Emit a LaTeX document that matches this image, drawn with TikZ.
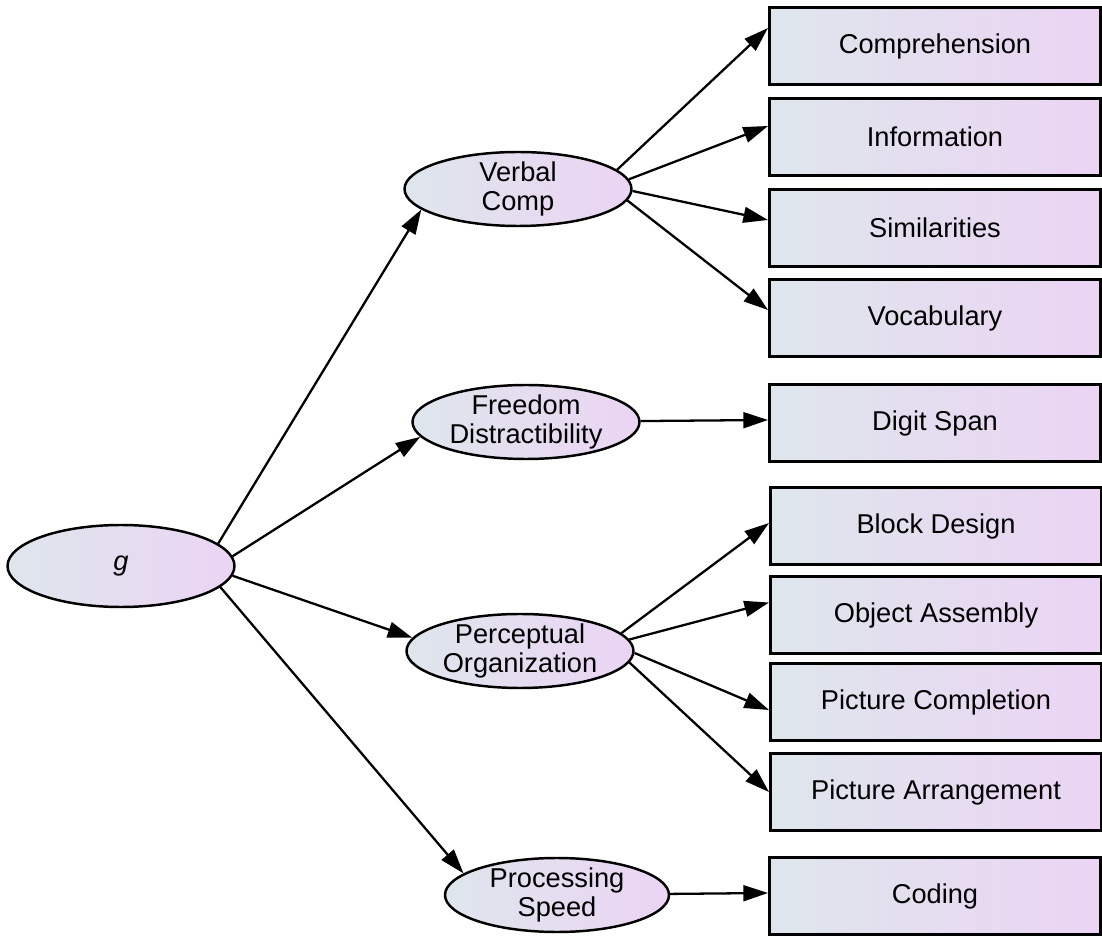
\documentclass[tikz,border=0pt]{standalone}
\usepackage{fontspec}
\setmainfont{Liberation Sans}
\usetikzlibrary{arrows.meta,shapes.geometric}
\definecolor{shadeleft}{RGB}{222,230,236}
\definecolor{shaderight}{RGB}{235,212,244}

\begin{document}
\begin{tikzpicture}[
		latent/.style={ellipse,draw,line width=1.4pt,left color=shadeleft,right color=shaderight,
			minimum width=4.54cm,minimum height=1.48cm,inner xsep=0pt,inner ysep=-3pt,align=center,
			font=\fontsize{15.5}{16.5}\selectfont},
		manifest/.style={rectangle,draw,line width=1.7pt,left color=shadeleft,right color=shaderight,
			minimum width=6.62cm,minimum height=1.54cm,font=\fontsize{15.5}{16.5}\selectfont},
		loading/.style={-{Triangle[length=14pt,width=9pt]},line width=1.3pt}
	]
				\useasboundingbox (0,0) rectangle (22.04,-18.74);
				\node[latent,minimum height=1.64cm] (g) at (2.42,-11.32) {\textit{g}};
				\node[latent] (vc) at (10.36,-3.78) {Verbal\\Comp};
				\node[latent] (fd) at (10.52,-8.44) {Freedom\\Distractibility};
				\node[latent] (po) at (10.40,-13.02) {Perceptual\\Organization};
				\node[latent,minimum width=4.48cm] (ps) at (11.14,-17.90) {Processing\\Speed};

				\node[manifest] (comp) at (18.70,-0.92) {Comprehension};
				\node[manifest] (info) at (18.70,-2.74) {Information};
				\node[manifest] (simi) at (18.70,-4.56) {Similarities};
				\node[manifest] (voca) at (18.70,-6.36) {Vocabulary};
				\node[manifest] (digit) at (18.70,-8.46) {Digit Span};
				\node[manifest] (block) at (18.72,-10.52) {Block Design};
				\node[manifest] (object) at (18.72,-12.30) {Object Assembly};
				\node[manifest] (pcomp) at (18.72,-14.04) {Picture Completion};
				\node[manifest] (parr) at (18.72,-15.84) {Picture Arrangement};
				\node[manifest] (coding) at (18.70,-17.92) {Coding};

				\draw[loading] (g.13) -- (vc.192);
				\draw[loading] (g.5) -- (fd.188);
				\draw[loading] (g.-5) -- (po.173);
				\draw[loading] (g.-12) -- (ps.167);

				\draw[loading] (vc.11) -- ([yshift=0.36cm]comp.west);
				\draw[loading] (vc.5) -- ([yshift=0.22cm]info.west);
				\draw[loading] (vc.-1) -- ([yshift=0.16cm]simi.west);
				\draw[loading] (vc.-6) -- ([yshift=0.16cm]voca.west);
				\draw[loading] (fd) -- ([yshift=0.06cm]digit.west);
				\draw[loading] (po.10) -- ([yshift=0.06cm]block.west);
				\draw[loading] (po.6) -- ([yshift=0.25cm]object.west);
				\draw[loading] (po.-1) -- ([yshift=-0.16cm]pcomp.west);
				\draw[loading] (po.-6) -- (parr.west);
				\draw[loading] (ps) -- ([yshift=0.06cm]coding.west);
\end{tikzpicture}
\end{document}
